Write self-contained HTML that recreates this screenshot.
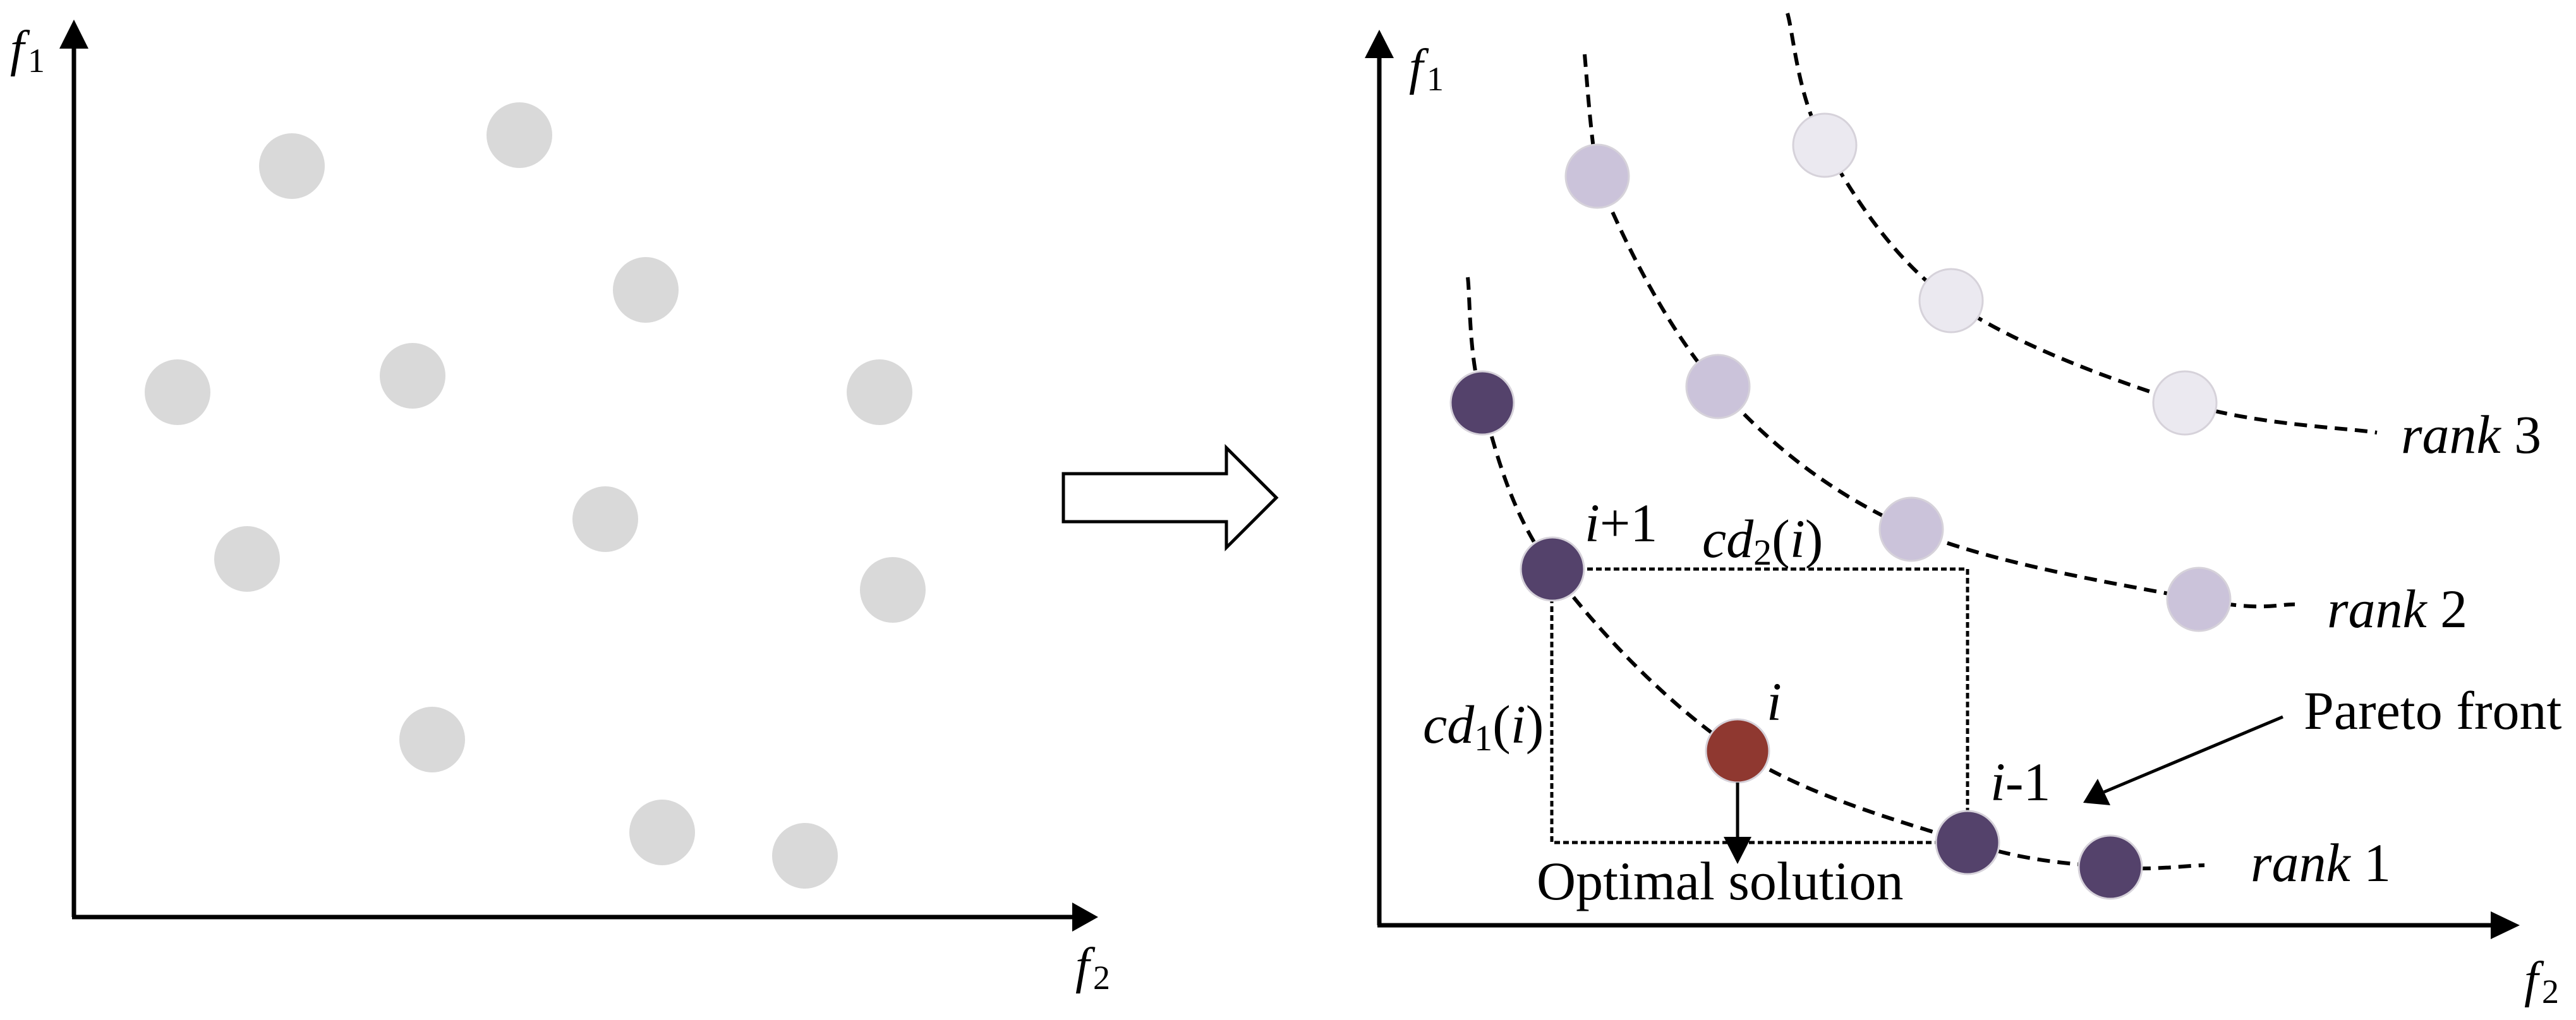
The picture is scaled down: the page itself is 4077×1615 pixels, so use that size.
<!DOCTYPE html>
<html><head><meta charset="utf-8"><style>
html,body{margin:0;padding:0;background:#fff;}
svg{display:block;}
text{font-family:"Liberation Serif",serif;fill:#000;}
</style></head><body>
<svg width="4077" height="1615" viewBox="0 0 4077 1615" xmlns="http://www.w3.org/2000/svg">
<!-- Left panel axes -->
<line x1="117" y1="1452" x2="117" y2="70" stroke="#000" stroke-width="7"/>
<polygon points="117,31 94,77 140,77" fill="#000"/>
<line x1="114" y1="1452" x2="1700" y2="1452" stroke="#000" stroke-width="7"/>
<polygon points="1738,1452 1697,1429 1697,1475" fill="#000"/>
<text x="16" y="104" font-size="80" font-style="italic">f</text><text x="44" y="114" font-size="54">1</text>
<text x="1702" y="1556" font-size="80" font-style="italic">f</text><text x="1730" y="1566" font-size="54">2</text>
<g fill="#d9d9d9">
<circle cx="462" cy="263" r="52"/><circle cx="822" cy="214" r="52"/><circle cx="1022" cy="459" r="52"/>
<circle cx="281" cy="621" r="52"/><circle cx="653" cy="595" r="52"/><circle cx="1392" cy="621" r="52"/>
<circle cx="958" cy="822" r="52"/><circle cx="391" cy="885" r="52"/><circle cx="1413" cy="934" r="52"/>
<circle cx="684" cy="1171" r="52"/><circle cx="1048" cy="1318" r="52"/><circle cx="1274" cy="1355" r="52"/>
</g>
<!-- block arrow -->
<polygon points="1683,750 1941,750 1941,709 2020,788 1941,867 1941,826 1683,826" fill="#fff" stroke="#000" stroke-width="5"/>
<!-- Right panel axes -->
<line x1="2183" y1="1465" x2="2183" y2="85" stroke="#000" stroke-width="7"/>
<polygon points="2183,47 2160,92 2206,92" fill="#000"/>
<line x1="2180" y1="1465" x2="3945" y2="1465" stroke="#000" stroke-width="7"/>
<polygon points="3988,1465 3942,1443 3942,1487" fill="#000"/>
<text x="2230" y="133" font-size="80" font-style="italic">f</text><text x="2258" y="143" font-size="54">1</text>
<text x="3995" y="1578" font-size="80" font-style="italic">f</text><text x="4023" y="1588" font-size="54">2</text>
<!-- dashed curves -->
<g fill="none" stroke="#000" stroke-width="6" stroke-dasharray="20 12">
<path d="M2323,439 C2327,472 2324,561 2346,638 C2368,715 2389,809 2456,901 C2523,993 2640,1117 2750,1189 C2860,1261 3016,1303 3114,1334 C3212,1365 3277,1367 3340,1373 C3403,1379 3464,1370 3489,1370"/>
<path d="M2508,86 C2511,118 2516,200 2528,279 C2563,367 2636,519 2719,612 C2802,705 2898,782 3025,838 C3152,894 3379,929 3480,949 C3581,969 3607,956 3632,957"/>
<path d="M2829,21 C2839,56 2845,154 2888,230 C2931,306 2993,408 3088,476 C3183,544 3346,603 3458,638 C3570,673 3711,677 3762,685"/>
</g>
<!-- dotted rect -->
<g fill="none" stroke="#000" stroke-width="5" stroke-dasharray="9 5">
<path d="M2456,901 L3114,901 L3114,1334 L2456,1334 Z"/>
</g>
<!-- circles -->
<g stroke="#d6d2da" stroke-width="3">
<circle cx="2888" cy="230" r="50" fill="#ebe9f0"/><circle cx="3088" cy="476" r="50" fill="#ebe9f0"/><circle cx="3458" cy="638" r="50" fill="#ebe9f0"/>
<circle cx="2528" cy="279" r="50" fill="#cbc3da"/><circle cx="2719" cy="612" r="50" fill="#cbc3da"/><circle cx="3025" cy="838" r="50" fill="#cbc3da"/><circle cx="3480" cy="949" r="50" fill="#cbc3da"/>
<circle cx="2346" cy="638" r="50" fill="#54426b"/><circle cx="2457" cy="901" r="50" fill="#54426b"/><circle cx="3114" cy="1334" r="50" fill="#54426b"/><circle cx="3340" cy="1373" r="50" fill="#54426b"/>
<circle cx="2750" cy="1189" r="50" fill="#8f3830"/>
</g>
<!-- arrows -->
<line x1="2750" y1="1239" x2="2750" y2="1330" stroke="#000" stroke-width="5"/>
<polygon points="2750,1368 2728,1325 2772,1325" fill="#000"/>
<line x1="3613" y1="1135" x2="3330" y2="1254" stroke="#000" stroke-width="5"/>
<polygon points="3297,1271 3320,1233 3340,1275" fill="#000"/>
<!-- labels -->
<g font-size="86">
<text x="2508" y="857"><tspan font-style="italic">i</tspan>+1</text>
<text x="2694" y="882"><tspan font-style="italic">cd</tspan><tspan font-size="58" dy="12">2</tspan><tspan dy="-12">(</tspan><tspan font-style="italic">i</tspan>)</text>
<text x="2252" y="1176"><tspan font-style="italic">cd</tspan><tspan font-size="58" dy="12">1</tspan><tspan dy="-12">(</tspan><tspan font-style="italic">i</tspan>)</text>
<text x="2796" y="1140" font-style="italic">i</text>
<text x="3150" y="1267"><tspan font-style="italic">i</tspan>-1</text>
<text x="3646" y="1154">Pareto front</text>
<text x="2432" y="1424">Optimal solution</text>
<text x="3800" y="717"><tspan font-style="italic">rank</tspan> 3</text>
<text x="3683" y="993"><tspan font-style="italic">rank</tspan> 2</text>
<text x="3562" y="1395"><tspan font-style="italic">rank</tspan> 1</text>
</g>
</svg>
</body></html>
